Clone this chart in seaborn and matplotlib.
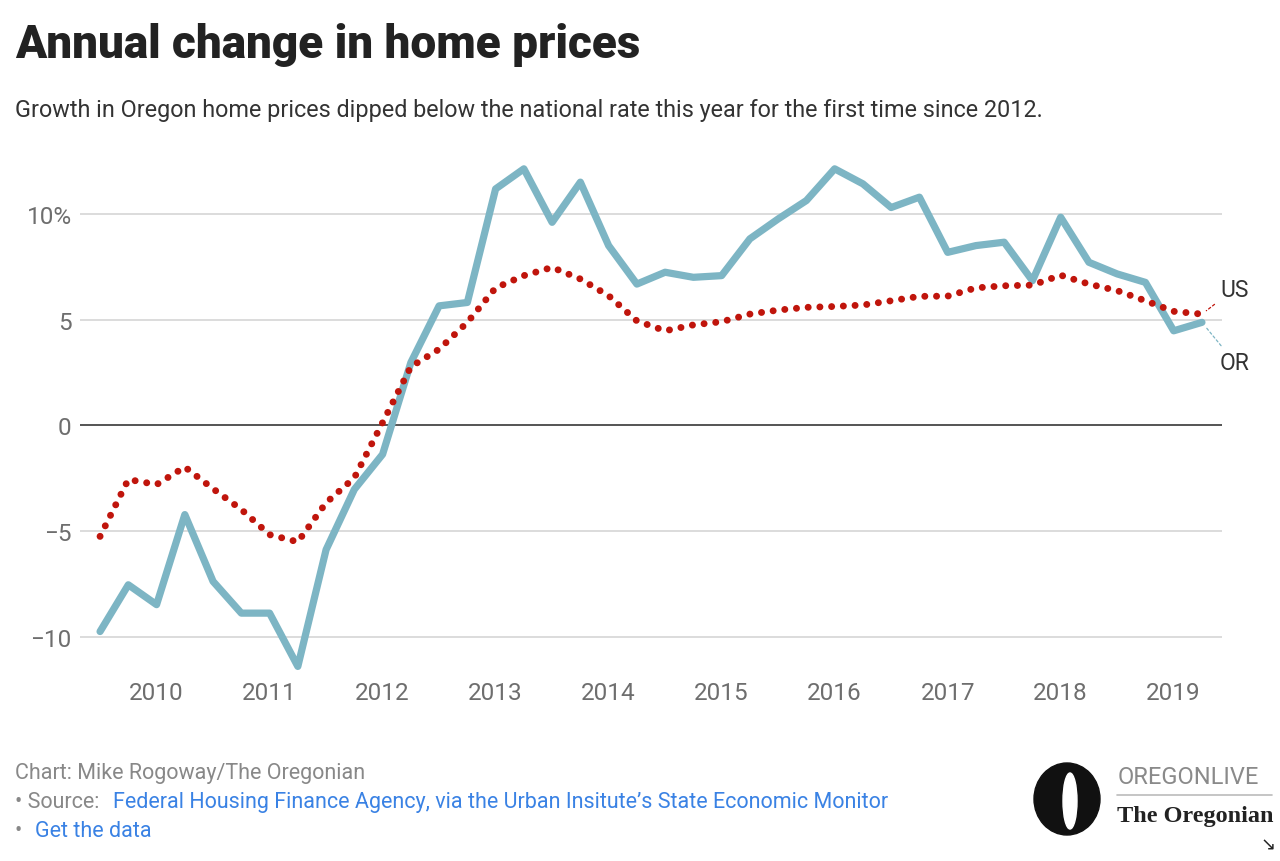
import numpy as np
import pandas as pd
import matplotlib.pyplot as plt
from matplotlib.patches import Ellipse
import seaborn as sns

# quarterly data, 2009 Q3 - 2019 Q2
quarters = list(pd.period_range('2009Q3', '2019Q2', freq='Q').astype(str))
oregon = [-9.75, -7.54, -8.48, -4.22, -7.38, -8.88, -8.88, -11.4, -5.88, -3.03,
          -1.37, 2.97, 5.65, 5.81, 11.18, 12.13, 9.6, 11.5, 8.5, 6.68,
          7.24, 7.0, 7.08, 8.82, 9.76, 10.63, 12.13, 11.42, 10.3, 10.79,
          8.18, 8.5, 8.66, 6.84, 9.84, 7.71, 7.16, 6.76, 4.47, 4.87]
us = [-5.25, -2.56, -2.8, -1.97, -3.0, -3.98, -5.17, -5.51, -3.66, -2.48,
      0.13, 2.77, 3.6, 4.87, 6.5, 7.08, 7.47, 6.92, 6.13, 4.94,
      4.47, 4.75, 4.9, 5.26, 5.45, 5.58, 5.62, 5.69, 5.89, 6.1,
      6.11, 6.5, 6.6, 6.63, 7.1, 6.68, 6.37, 5.89, 5.39, 5.26]
years = [2010, 2011, 2012, 2013, 2014, 2015, 2016, 2017, 2018, 2019]
y_ticks = [-10, -5, 0, 5, 10]
y_labels = ['\u221210', '\u22125', '0', '5', '10%']

df = pd.DataFrame({'quarter': quarters, 'pos': range(len(quarters)),
                   'OR': oregon, 'US': us})

teal = '#7db5c4'
red = '#c0150c'

sns.set_style('white')
plt.rcParams['font.family'] = ['Roboto', 'DejaVu Sans']

fig = plt.figure(figsize=(12.8, 8.62), dpi=100)
ax = fig.add_axes([80 / 1280, 1 - 678 / 862, 1142 / 1280, 516 / 862])

sns.lineplot(data=df, x='pos', y='OR', color=teal, linewidth=5.2, ax=ax,
             solid_joinstyle='round', solid_capstyle='round', zorder=3)
sns.lineplot(data=df, x='pos', y='US', color=red, linewidth=5.0, ax=ax,
             linestyle=(0, (0.01, 1.68)), dash_capstyle='round', zorder=4)

ax.set_xlim(-0.71, len(quarters) - 1 + 0.71)
ax.set_ylim(-11.9, 12.5)

xt = [quarters.index(f'{y}Q1') for y in years]
ax.set_xticks(xt)
ax.set_xticklabels([str(y) for y in years])
ax.set_yticks(y_ticks)
ax.set_yticklabels(y_labels)
ax.tick_params(length=0, labelsize=17.5, colors='#6e6e6e')
ax.tick_params(axis='y', pad=6)
ax.tick_params(axis='x', pad=3)
ax.set_xlabel('')
ax.set_ylabel('')
ax.grid(axis='y', color='#dcdcdc', linewidth=1.4)
ax.axhline(0, color='#555555', linewidth=1.4, zorder=2)
sns.despine(ax=ax, left=True, bottom=True)

# end labels
ax.annotate('US', xy=(df['pos'].iloc[-1], us[-1]), xytext=(13, 18),
            textcoords='offset points', va='center', ha='left',
            fontsize=16.5, color='#333333',
            arrowprops=dict(arrowstyle='-', color=red, lw=0.9, ls=(0, (2, 2)),
                            shrinkA=2, shrinkB=4))
ax.annotate('OR', xy=(df['pos'].iloc[-1], oregon[-1]), xytext=(13, -29),
            textcoords='offset points', va='center', ha='left',
            fontsize=16.5, color='#333333',
            arrowprops=dict(arrowstyle='-', color=teal, lw=0.9, ls=(0, (2, 2)),
                            shrinkA=2, shrinkB=4))

# titles
fig.text(15 / 1280, 1 - 58 / 862, 'Annual change in home prices',
         fontsize=33, fontweight='black', color='#222222', va='baseline')
fig.text(15 / 1280, 1 - 117 / 862,
         'Growth in Oregon home prices dipped below the national rate this year '
         'for the first time since 2012.',
         fontsize=16.8, color='#333333', va='baseline')

# footer
gray = '#888888'
blue = '#3a82e4'
fs = 15.5
fig.text(15 / 1280, 1 - 779 / 862, 'Chart: Mike Rogoway/The Oregonian',
         fontsize=fs, color=gray, va='baseline')
fig.text(15 / 1280, 1 - 808 / 862, '\u2022 Source:', fontsize=fs, color=gray,
         va='baseline')
fig.text(113 / 1280, 1 - 808 / 862,
         'Federal Housing Finance Agency, via the Urban Insitute\u2019s State Economic Monitor',
         fontsize=fs, color=blue, va='baseline')
fig.text(15 / 1280, 1 - 837 / 862, '\u2022', fontsize=fs, color=gray, va='baseline')
fig.text(35 / 1280, 1 - 837 / 862, 'Get the data', fontsize=fs, color=blue,
         va='baseline')

# logo
fig.patches.append(Ellipse((1067 / 1280, 1 - 800 / 862), 66 / 1280, 72 / 862,
                           transform=fig.transFigure, color='#111111'))
fig.patches.append(Ellipse((1070 / 1280, 1 - 802 / 862), 14 / 1280, 56 / 862,
                           transform=fig.transFigure, color='white'))
fig.text(1118 / 1280, 1 - 784 / 862, 'OREGONLIVE', fontsize=17, color='#8a8a8a',
         va='baseline')
fig.add_artist(plt.Line2D([1117 / 1280, 1272 / 1280], [1 - 796 / 862, 1 - 796 / 862],
                          transform=fig.transFigure, color='#bbbbbb', lw=1.2))
fig.text(1117 / 1280, 1 - 822 / 862, 'The Oregonian', fontsize=17.5,
         family=['Liberation Serif', 'DejaVu Serif'], fontweight='bold',
         color='#222222', va='baseline')
fig.text(1268 / 1280, 1 - 846 / 862, '\u2198', fontsize=13, color='#222222',
         ha='center', va='center', family=['DejaVu Sans'])

fig.savefig('out.png', dpi=100, facecolor='white')
